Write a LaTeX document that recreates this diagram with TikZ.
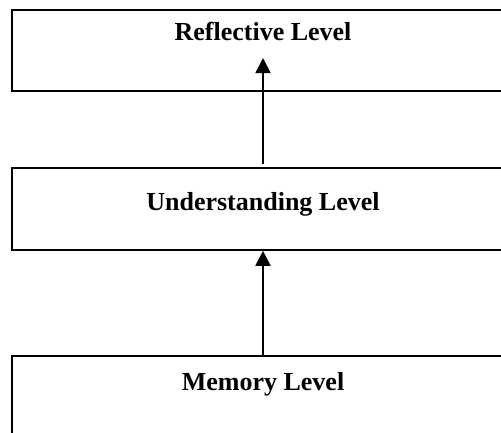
\documentclass[tikz,border=0pt]{standalone}
\usepackage{fontspec}
\setmainfont{Liberation Serif}
\usetikzlibrary{arrows.meta}
\begin{document}
\begin{tikzpicture}[x=1pt,y=-1pt,
  levelbox/.style={draw, line width=1.8pt, minimum width=502pt, inner sep=0pt, anchor=north},
  leveltext/.style={font=\fontsize{26}{30}\selectfont\bfseries, anchor=base, inner sep=0pt},
  uparrow/.style={-{Triangle[width=15pt,length=15pt]}, line width=1.8pt}]
\useasboundingbox (0,0) rectangle (501,432);

% the three level boxes (right and bottom edges run off the page)
\node[levelbox, minimum height=81pt]  (reflective)    at (263,9)   {};
\node[levelbox, minimum height=82pt]  (understanding) at (263,167) {};
\node[levelbox, minimum height=100pt] (memory)        at (263,355) {};

% box titles
\node[leveltext] (reflectivelabel)    at (263,40)  {Reflective Level};
\node[leveltext] (understandinglabel) at (263,210) {Understanding Level};
\node[leveltext] (memorylabel)        at (263,390) {Memory Level};

% upward arrows between levels
\coordinate (reflectivetip) at (263,58);
\draw[uparrow] ([yshift=3pt]understanding.north) -- (reflectivetip);
\draw[uparrow] (memory.north) -- (understanding.south);
\end{tikzpicture}
\end{document}
